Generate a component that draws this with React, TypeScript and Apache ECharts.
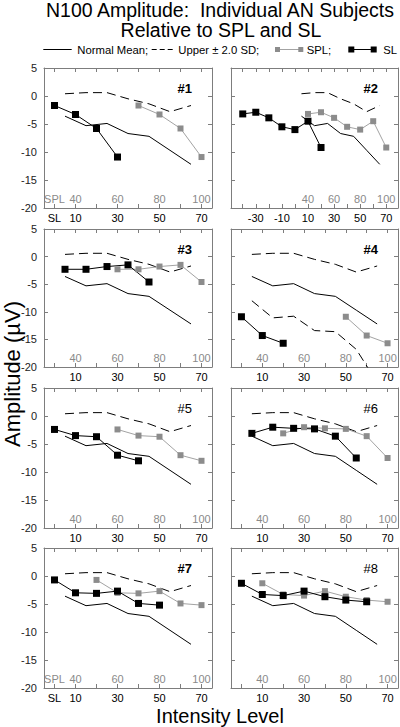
import React, { useEffect, useRef } from "react";
import * as echarts from "echarts";

// ---------- data ----------
// Normative curves (x in dB SPL)
const NORMAL_SPL = [35, 45, 55, 65, 75, 85, 95];
const NORMAL_MEAN = [-3.6, -5.3, -4.9, -6.7, -7.2, -9.7, -12.2];
const NORMAL_UPPER = [0.4, 0.6, 0.6, -0.5, -1.4, -2.8, -1.7];
const NORMAL_LOWER = [-8.0, -11.1, -10.8, -13.4, -13.6, -16.8, -22.8];

// Subjects: sensation level (SL), sound pressure level (SPL), N100 amplitude (µV)
const S1_SL = [0, 10, 20, 30];
const S1_SPL = [70, 80, 90, 100];
const S1_AMP = [-1.7, -3.3, -5.8, -10.9];

const S2_SL = [-40, -30, -20, -10, 0, 10, 20];
const S2_SPL = [40, 50, 60, 70, 80, 90, 100];
const S2_AMP = [-3.2, -2.9, -3.9, -5.5, -6.0, -4.5, -9.2];

const S3_SL = [5, 15, 25, 35, 45];
const S3_SPL = [60, 70, 80, 90, 100];
const S3_AMP = [-2.3, -2.3, -1.8, -1.5, -4.6];

const S4_SL = [0, 10, 20];
const S4_SPL = [80, 90, 100];
const S4_AMP = [-10.9, -14.3, -15.7];

const S5_SL = [0, 10, 20, 30, 40];
const S5_SPL = [60, 70, 80, 90, 100];
const S5_AMP = [-2.4, -3.5, -3.7, -7.0, -8.0];

const S6_SL = [5, 15, 25, 35, 45, 55];
const S6_SPL = [50, 60, 70, 80, 90, 100];
const S6_AMP = [-3.1, -2.0, -2.2, -2.3, -3.6, -7.5];

const S7_SL = [0, 10, 20, 30, 40, 50];
const S7_SPL = [50, 60, 70, 80, 90, 100];
const S7_AMP = [-0.7, -3.0, -3.1, -2.7, -4.9, -5.2];

const S8_SL = [0, 10, 20, 30, 40, 50, 60];
const S8_SPL = [40, 50, 60, 70, 80, 90, 100];
const S8_AMP = [-1.3, -3.3, -3.5, -2.7, -3.7, -4.3, -4.6];

const SUBJECT_LABELS = ["#1", "#2", "#3", "#4", "#5", "#6", "#7", "#8"];
const SUBJECT_BOLD = [true, true, true, true, false, false, true, false];

// Axis labels
const SPL_OFFSET = 30; // axis value = SPL - 30 (= SL scale)
const SL_LABELS_DEFAULT = [10, 30, 50, 70];
const SL_LABELS_WIDE = [-30, -10, 10, 30, 50, 70];
const SPL_LABEL_VALUES = [40, 60, 80, 100];
const Y_MIN = -20;
const Y_MAX = 5;
const Y_STEP = 5;

const SUBJECTS = [
  { sl: S1_SL, spl: S1_SPL, amp: S1_AMP },
  { sl: S2_SL, spl: S2_SPL, amp: S2_AMP },
  { sl: S3_SL, spl: S3_SPL, amp: S3_AMP },
  { sl: S4_SL, spl: S4_SPL, amp: S4_AMP },
  { sl: S5_SL, spl: S5_SPL, amp: S5_AMP },
  { sl: S6_SL, spl: S6_SPL, amp: S6_AMP },
  { sl: S7_SL, spl: S7_SPL, amp: S7_AMP },
  { sl: S8_SL, spl: S8_SPL, amp: S8_AMP },
];

// ---------- layout / style ----------
const FONT = "'Liberation Sans', Arial, Helvetica, sans-serif";
const FRAME = "#7d7d7d";
const GRAY_MARK = "#8c8c8c";
const GRAY_LINE = "#a3a3a3";
const GRAY_TEXT = "#8a8a8a";
const COL_LEFT = [44, 231];
const COL_W = [168, 167];
const ROW_TOP = [68, 229, 388, 548];
const ROW_H = [140, 138, 140, 140];

function buildOption() {
  const grid: any[] = [];
  const xAxis: any[] = [];
  const yAxis: any[] = [];
  const series: any[] = [];
  const graphic: any[] = [];

  SUBJECTS.forEach((s, i) => {
    const col = i % 2;
    const row = Math.floor(i / 2);
    const left = COL_LEFT[col];
    const top = ROW_TOP[row];
    const width = COL_W[col];
    const height = ROW_H[row];
    const wide = i === 1;
    const showSL = i === 0 || i === 6;
    const xmin = wide ? -49 : -5;
    const xmax = wide ? 79 : 75;
    const ticks: number[] = [];
    for (let v = Math.ceil(xmin / 10) * 10; v <= xmax; v += 10) ticks.push(v);

    grid.push({ left, top, width, height });

    const slLabels = wide ? SL_LABELS_WIDE : showSL ? [0, ...SL_LABELS_DEFAULT] : SL_LABELS_DEFAULT;
    const splLabels = SPL_LABEL_VALUES.map((v) => v - SPL_OFFSET);
    const splCustom = showSL ? [0, ...splLabels] : splLabels;

    const xBase = xAxis.length;
    // bottom SL axis
    xAxis.push({
      gridIndex: i,
      type: "value",
      position: "bottom",
      min: xmin,
      max: xmax,
      axisLine: { show: true, onZero: false, lineStyle: { color: FRAME, width: 1 } },
      axisTick: { show: true, inside: true, length: 4, customValues: ticks, lineStyle: { color: FRAME } },
      axisLabel: {
        show: true,
        customValues: slLabels,
        formatter: (v: number) => (v === 0 && showSL ? "SL" : String(v)),
        margin: 4,
        color: "#000",
        fontSize: 11,
        fontFamily: FONT,
      },
      splitLine: { show: false },
    });
    // top mirror axis
    xAxis.push({
      gridIndex: i,
      type: "value",
      position: "top",
      min: xmin,
      max: xmax,
      axisLine: { show: true, onZero: false, lineStyle: { color: FRAME, width: 1 } },
      axisTick: { show: true, inside: true, length: 4, customValues: ticks, lineStyle: { color: FRAME } },
      axisLabel: { show: false },
      splitLine: { show: false },
    });
    // SPL labels inside
    xAxis.push({
      gridIndex: i,
      type: "value",
      position: "bottom",
      offset: 0,
      min: xmin,
      max: xmax,
      axisLine: { show: false, onZero: false },
      axisTick: { show: false },
      axisLabel: {
        show: true,
        inside: true,
        customValues: splCustom,
        formatter: (v: number) => (v === 0 && showSL ? "SPL" : String(v + SPL_OFFSET)),
        margin: 4,
        color: GRAY_TEXT,
        fontSize: 11,
        fontFamily: FONT,
      },
      splitLine: { show: false },
    });

    const yBase = yAxis.length;
    yAxis.push({
      gridIndex: i,
      type: "value",
      position: "left",
      min: Y_MIN,
      max: Y_MAX,
      interval: Y_STEP,
      axisLine: { show: true, onZero: false, lineStyle: { color: FRAME, width: 1 } },
      axisTick: { show: true, inside: true, length: 4, lineStyle: { color: FRAME } },
      axisLabel: { show: col === 0, margin: 7, color: "#222", fontSize: 11, fontFamily: FONT },
      splitLine: { show: false },
    });
    yAxis.push({
      gridIndex: i,
      type: "value",
      position: "right",
      min: Y_MIN,
      max: Y_MAX,
      interval: Y_STEP,
      axisLine: { show: true, onZero: false, lineStyle: { color: FRAME, width: 1 } },
      axisTick: { show: true, inside: true, length: 4, lineStyle: { color: FRAME } },
      axisLabel: { show: false },
      splitLine: { show: false },
    });

    const common = { xAxisIndex: xBase, yAxisIndex: yBase, type: "line", silent: true, clip: true };
    series.push({
      ...common,
      name: "mean" + i,
      data: NORMAL_SPL.map((x, k) => [x - SPL_OFFSET, NORMAL_MEAN[k]]),
      symbol: "none",
      lineStyle: { color: "#000", width: 1 },
    });
    series.push({
      ...common,
      name: "upper" + i,
      data: NORMAL_SPL.map((x, k) => [x - SPL_OFFSET, NORMAL_UPPER[k]]),
      symbol: "none",
      lineStyle: { color: "#000", width: 1, type: [9, 5] },
    });
    if (i === 3) {
      series.push({
        ...common,
        name: "lower" + i,
        data: NORMAL_SPL.map((x, k) => [x - SPL_OFFSET, NORMAL_LOWER[k]]),
        symbol: "none",
        lineStyle: { color: "#000", width: 1, type: [9, 5] },
      });
    }
    series.push({
      ...common,
      name: "spl" + i,
      data: s.spl.map((x, k) => [x - SPL_OFFSET, s.amp[k]]),
      symbol: "rect",
      symbolSize: 6,
      showSymbol: true,
      showAllSymbol: true,
      itemStyle: { color: GRAY_MARK },
      lineStyle: { color: GRAY_LINE, width: 1 },
    });
    series.push({
      ...common,
      name: "sl" + i,
      data: s.sl.map((x, k) => [x, s.amp[k]]),
      symbol: "rect",
      symbolSize: 7,
      showSymbol: true,
      showAllSymbol: true,
      itemStyle: { color: "#000" },
      lineStyle: { color: "#000", width: 1 },
    });

    graphic.push({
      type: "text",
      x: left + width - 20,
      y: top + 20,
      style: {
        text: SUBJECT_LABELS[i],
        align: "right",
        verticalAlign: "middle",
        fontSize: 13,
        fontWeight: SUBJECT_BOLD[i] ? "bold" : "normal",
        fontFamily: FONT,
        fill: "#000",
      },
    });
  });

  // titles
  graphic.push({
    type: "text",
    x: 220,
    y: 10,
    style: { text: "N100 Amplitude:  Individual AN Subjects", align: "center", verticalAlign: "middle", fontSize: 19.5, fontFamily: FONT, fill: "#000" },
  });
  graphic.push({
    type: "text",
    x: 221,
    y: 30,
    style: { text: "Relative to SPL and SL", align: "center", verticalAlign: "middle", fontSize: 19.5, fontFamily: FONT, fill: "#000" },
  });
  graphic.push({
    type: "text",
    x: 220,
    y: 716,
    style: { text: "Intensity Level", align: "center", verticalAlign: "middle", fontSize: 20, fontFamily: FONT, fill: "#000" },
  });
  graphic.push({
    type: "text",
    x: 12,
    y: 374,
    rotation: Math.PI / 2,
    style: { text: "Amplitude (\u00b5V)", align: "center", verticalAlign: "middle", fontSize: 22, fontFamily: FONT, fill: "#000" },
  });

  // legend
  const LY = 49.5;
  const lt = (x: number, text: string) => ({
    type: "text",
    x,
    y: LY,
    style: { text, align: "left", verticalAlign: "middle", fontSize: 11.3, fontFamily: FONT, fill: "#000" },
  });
  graphic.push({ type: "line", shape: { x1: 43.3, y1: LY, x2: 71.7, y2: LY }, style: { stroke: "#000", lineWidth: 1 } });
  graphic.push(lt(77.3, "Normal Mean;"));
  graphic.push({ type: "line", shape: { x1: 151.7, y1: LY, x2: 172.7, y2: LY }, style: { stroke: "#000", lineWidth: 1, lineDash: [5, 3] } });
  graphic.push(lt(178.3, "Upper \u00b1 2.0 SD;"));
  graphic.push({ type: "line", shape: { x1: 278, y1: LY, x2: 300, y2: LY }, style: { stroke: GRAY_LINE, lineWidth: 1 } });
  graphic.push({ type: "rect", shape: { x: 275, y: LY - 2.5, width: 5, height: 5 }, style: { fill: GRAY_MARK } });
  graphic.push({ type: "rect", shape: { x: 298.3, y: LY - 2.5, width: 5, height: 5 }, style: { fill: GRAY_MARK } });
  graphic.push(lt(306.7, "SPL;"));
  graphic.push({ type: "line", shape: { x1: 351, y1: LY, x2: 374, y2: LY }, style: { stroke: "#000", lineWidth: 1 } });
  graphic.push({ type: "rect", shape: { x: 348.3, y: LY - 3, width: 6, height: 6 }, style: { fill: "#000" } });
  graphic.push({ type: "rect", shape: { x: 370.7, y: LY - 3, width: 6, height: 6 }, style: { fill: "#000" } });
  graphic.push(lt(383.3, "SL"));

  return {
    animation: false,
    backgroundColor: "#fff",
    grid,
    xAxis,
    yAxis,
    series,
    graphic,
  };
}

export default function App() {
  const ref = useRef<HTMLDivElement>(null);
  useEffect(() => {
    if (!ref.current) return;
    const chart = echarts.init(ref.current, undefined, { renderer: "svg" });
    chart.setOption(buildOption() as any);
    return () => chart.dispose();
  }, []);
  return (
    <div
      ref={ref}
      style={{ position: "fixed", left: 0, top: 0, width: 400, height: 727, background: "#fff" }}
    />
  );
}
